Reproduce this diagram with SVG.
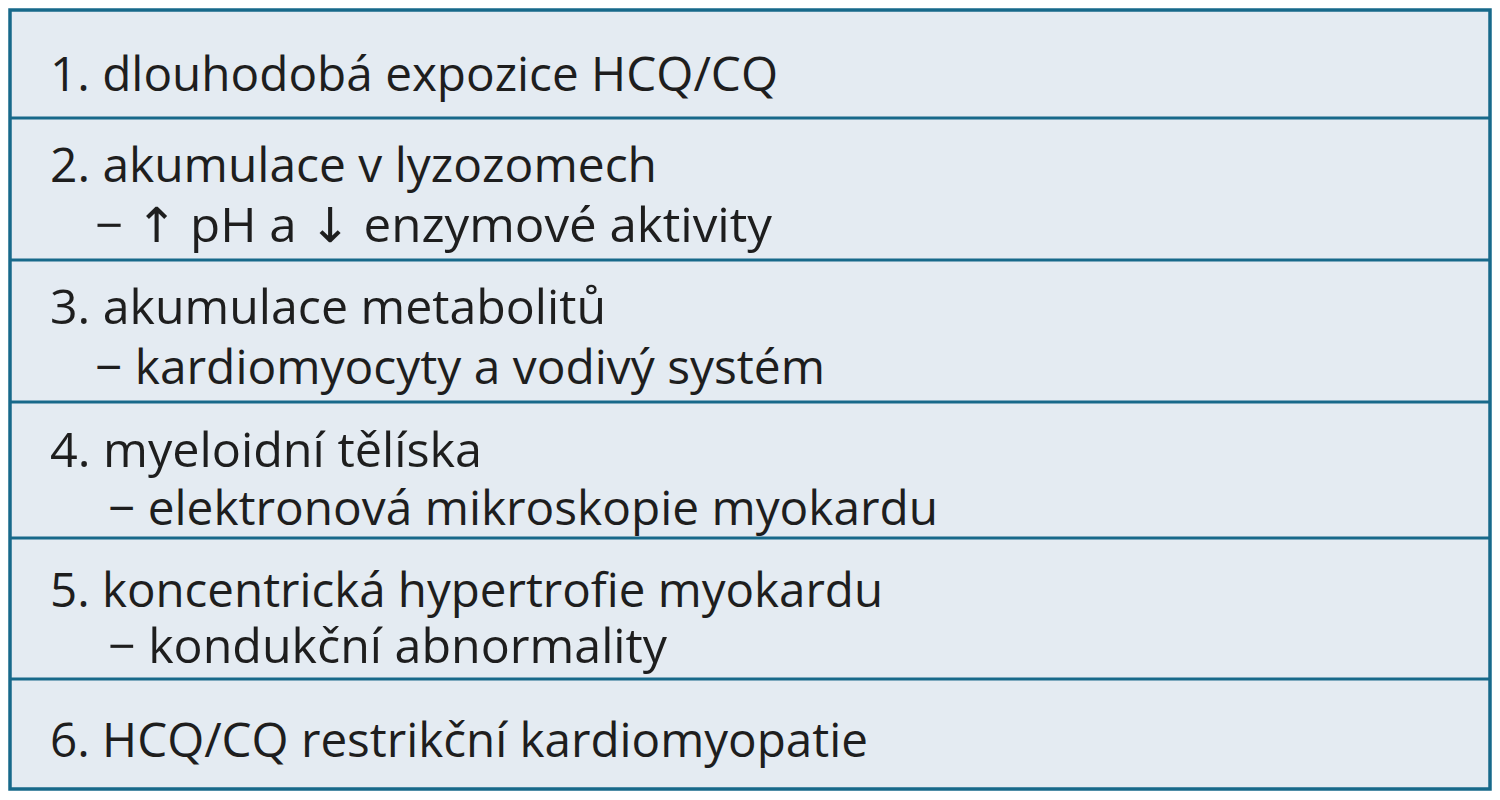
<svg xmlns="http://www.w3.org/2000/svg" width="1500" height="800" viewBox="0 0 1500 800">
<style>
.bg{fill:#e4ebf2}
.ln{stroke:#17698a;stroke-width:3;fill:none}
.frame{stroke:#17698a;stroke-width:3.5;fill:none}
.t{font-family:"Open Sans","Noto Sans","DejaVu Sans",sans-serif;font-size:48px;fill:#1e1e1e}
</style>
<rect x="0" y="0" width="1500" height="800" fill="#ffffff"/>
<rect class="bg" x="10" y="10" width="1480" height="779"/>
<g id="row1">
<text class="t" x="50" y="91" textLength="728" lengthAdjust="spacingAndGlyphs">1. dlouhodobá expozice HCQ/CQ</text>
</g>
<g id="row2">
<text class="t" x="50" y="182" textLength="607" lengthAdjust="spacingAndGlyphs">2. akumulace v lyzozomech</text>
<text class="t" x="95" y="242" textLength="677" lengthAdjust="spacingAndGlyphs">− ↑ pH a ↓ enzymové aktivity</text>
</g>
<g id="row3">
<text class="t" x="50" y="324" textLength="556" lengthAdjust="spacingAndGlyphs">3. akumulace metabolitů</text>
<text class="t" x="95" y="384" textLength="730" lengthAdjust="spacingAndGlyphs">− kardiomyocyty a vodivý systém</text>
</g>
<g id="row4">
<text class="t" x="50" y="467" textLength="432" lengthAdjust="spacingAndGlyphs">4. myeloidní tělíska</text>
<text class="t" x="108" y="525" textLength="830" lengthAdjust="spacingAndGlyphs">− elektronová mikroskopie myokardu</text>
</g>
<g id="row5">
<text class="t" x="50" y="607" textLength="833" lengthAdjust="spacingAndGlyphs">5. koncentrická hypertrofie myokardu</text>
<text class="t" x="108" y="663" textLength="559" lengthAdjust="spacingAndGlyphs">− kondukční abnormality</text>
</g>
<g id="row6">
<text class="t" x="50" y="757" textLength="818" lengthAdjust="spacingAndGlyphs">6. HCQ/CQ restrikční kardiomyopatie</text>
</g>
<g id="connectors">
<line class="ln" x1="10" y1="118" x2="1490" y2="118"/>
<line class="ln" x1="10" y1="260" x2="1490" y2="260"/>
<line class="ln" x1="10" y1="402" x2="1490" y2="402"/>
<line class="ln" x1="10" y1="538" x2="1490" y2="538"/>
<line class="ln" x1="10" y1="679" x2="1490" y2="679"/>
<rect class="frame" x="10" y="10" width="1480" height="779"/>
</g>
</svg>
